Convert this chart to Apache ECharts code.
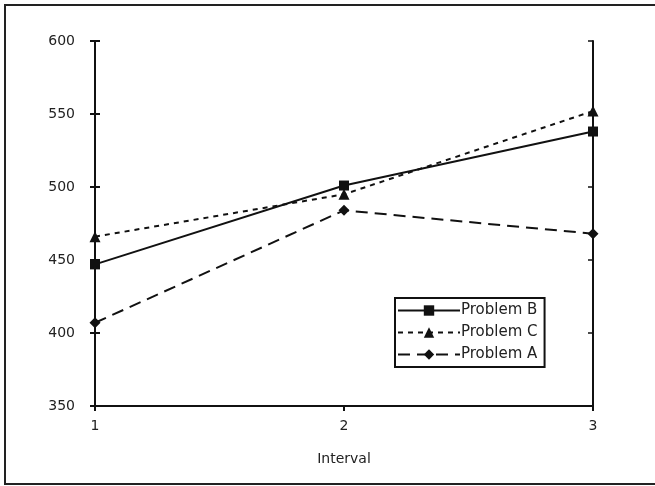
<!DOCTYPE html>
<html>
<head>
<meta charset="utf-8">
<script src="https://cdn.jsdelivr.net/npm/echarts@6/dist/echarts.min.js"></script>
<style>html,body{margin:0;padding:0;background:#fff;}#c{width:655px;height:486px;}</style>
</head>
<body>
<div id="c"></div>
<script>
const categories = ['1', '2', '3'];
const problemB = [447, 501, 538];
const problemC = [466, 495, 552];
const problemA = [407, 484, 468];
const yTicks = [350, 400, 450, 500, 550, 600];

const chart = echarts.init(document.getElementById('c'), null, {renderer: 'canvas'});
const font = 'DejaVu Sans, sans-serif';
const yBase = {type: 'value', min: yTicks[0], max: yTicks[yTicks.length - 1], interval: 50, splitLine: {show: false}};
chart.setOption({
  backgroundColor: '#fff',
  animation: false,
  graphic: [{type: 'polyline', shape: {points: [[660, 5], [5, 5], [5, 484], [660, 484]]}, style: {fill: 'none', stroke: '#222', lineWidth: 2}, silent: true}],
  grid: {left: 95, right: 62, top: 41, bottom: 80},
  legend: {
    data: ['Problem B', 'Problem C', 'Problem A'],
    orient: 'vertical', left: 395, top: 298,
    itemWidth: 62, itemHeight: 13, itemGap: 7,
    borderColor: '#111', borderWidth: 2, padding: [5, 7, 5, 2],
    textStyle: {fontFamily: font, fontSize: 15, color: '#222', padding: [0, 0, 0, -4]}
  },
  xAxis: {
    type: 'category', data: categories, boundaryGap: false,
    name: 'Interval', nameLocation: 'middle', nameGap: 46,
    nameTextStyle: {fontFamily: font, fontSize: 14, color: '#222'},
    axisLine: {lineStyle: {color: '#111', width: 2}},
    axisTick: {show: true, length: 5, lineStyle: {color: '#111', width: 2}},
    axisLabel: {fontFamily: font, fontSize: 14, color: '#222', margin: 13}
  },
  yAxis: [
    Object.assign({}, yBase, {
      position: 'left',
      axisLine: {show: true, lineStyle: {color: '#111', width: 2}},
      axisTick: {show: true, length: 5, lineStyle: {color: '#111', width: 2}},
      axisLabel: {fontFamily: font, fontSize: 14, color: '#222', margin: 20}
    }),
    Object.assign({}, yBase, {
      position: 'right',
      axisLine: {show: true, lineStyle: {color: '#111', width: 2}},
      axisTick: {show: true, inside: true, length: 5, lineStyle: {color: '#111', width: 1.5}},
      axisLabel: {show: false}
    }),
    Object.assign({}, yBase, {
      position: 'left',
      axisLine: {show: false},
      axisTick: {show: true, inside: true, length: 5, lineStyle: {color: '#111', width: 2}},
      axisLabel: {show: false}
    })
  ],
  series: [
    {name: 'Problem B', type: 'line', data: problemB, symbol: 'rect', symbolSize: 10,
     itemStyle: {color: '#111'}, lineStyle: {color: '#111', width: 2, type: 'solid'}},
    {name: 'Problem C', type: 'line', data: problemC, symbol: 'triangle', symbolSize: 11,
     itemStyle: {color: '#111'}, lineStyle: {color: '#111', width: 2, type: [5, 5]}},
    {name: 'Problem A', type: 'line', data: problemA, symbol: 'diamond', symbolSize: 11,
     itemStyle: {color: '#111'}, lineStyle: {color: '#111', width: 2, type: [12, 7]}}
  ]
});
</script>
</body>
</html>
